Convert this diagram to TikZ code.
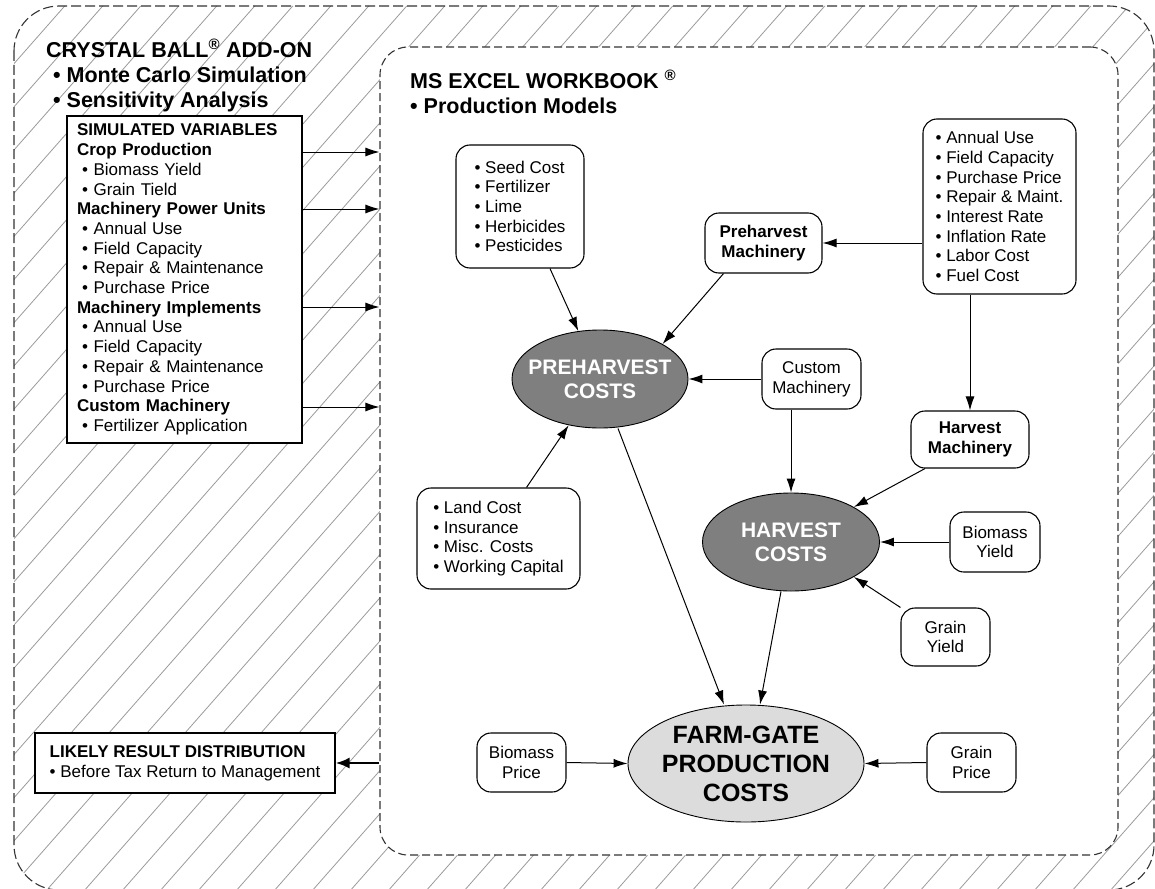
\documentclass[tikz,border=0pt]{standalone}
\usepackage{fontspec}
\setmainfont{Liberation Sans}
\usetikzlibrary{arrows.meta,shapes.geometric}

\definecolor{costgray}{HTML}{7F7F7F}
\definecolor{farmgray}{HTML}{DCDCDC}
\definecolor{hatchgray}{HTML}{9A9A9A}

\def\bodyfont{\fontsize{17}{19.7}\selectfont}
\def\titlefont{\fontsize{21.5}{25}\selectfont\bfseries}
\def\costfont{\fontsize{21}{24}\selectfont\bfseries}
\def\farmfont{\fontsize{25}{29}\selectfont\bfseries}
\def\zw#1{\makebox[0pt]{#1}}
\def\bul{\hspace*{5pt}• }

\begin{document}
\begin{tikzpicture}[x=1pt, y=-1pt,
		hatch/.style={draw=hatchgray, line width=0.8pt},
		outerline/.style={draw=black!80, line width=1.1pt, dash pattern=on 10pt off 4pt},
		innerbox/.style={draw=black!80, line width=1.1pt, dash pattern=on 8pt off 4pt, fill=white, rounded corners=28pt, inner sep=0pt},
		plainbox/.style={draw, fill=white, line width=1.1pt, inner sep=0pt, font=\bodyfont},
		item/.style={draw, fill=white, line width=1.1pt, rounded corners=14pt, inner sep=0pt, font=\bodyfont},
		bolditem/.style={item, font=\bodyfont\bfseries, align=center},
		cost/.style={ellipse, draw, line width=0.9pt, fill=costgray, text=white, font=\costfont, align=center, inner sep=0pt},
		arr/.style={-{Latex[length=14pt,width=9pt]}, line width=1pt}]
		\useasboundingbox (0,0) rectangle (1155,888);
		
		% hatched add-on area
		\begin{scope}
			\clip[rounded corners=45pt] (14,6) rectangle (1154,890);
			\foreach \k in {-22,...,31}
				\draw[hatch] (\k*38,900) -- ++(792,-900);
		\end{scope}
		\draw[outerline, rounded corners=45pt] (14,6) rectangle (1154,890);
		
		% workbook area
		\node[innerbox, minimum width=738pt, minimum height=808pt] (excel) at (749,451) {};
		
		% titles
		\node[anchor=north west, inner sep=0pt, align=left, font=\titlefont] (crystal) at (46,39)
			{CRYSTAL BALL\textsuperscript{®} ADD-ON\\
			\hspace*{7pt}• Monte Carlo Simulation\\
			\hspace*{7pt}• Sensitivity Analysis};
		\node[anchor=north west, inner sep=0pt, align=left, font=\titlefont] (workbook) at (410,70)
			{MS EXCEL WORKBOOK \textsuperscript{®}\\
			• Production Models};
		
		% add-on boxes
		\node[plainbox, text width=215pt, inner xsep=10pt, minimum height=327pt, align=left] (sim) at (184.5,279.5)
			{\textbf{SIMULATED VARIABLES}\\
			\textbf{Crop Production}\\
			\bul Biomass Yield\\
			\bul Grain Tield\\
			\textbf{Machinery Power Units}\\
			\bul Annual Use\\
			\bul Field Capacity\\
			\bul Repair \& Maintenance\\
			\bul Purchase Price\\
			\textbf{Machinery Implements}\\
			\bul Annual Use\\
			\bul Field Capacity\\
			\bul Repair \& Maintenance\\
			\bul Purchase Price\\
			\textbf{Custom Machinery}\\
			\bul Fertilizer Application};
		\node[plainbox, minimum width=300pt, minimum height=60pt, align=left] (likely) at (185,763)
			{\textbf{LIKELY RESULT DISTRIBUTION}\\
			• Before Tax Return to Management};
		
		% model inputs
		\node[item, align=left, minimum width=128pt, minimum height=123pt] (seed) at (520,206.5)
			{• Seed Cost\\• Fertilizer\\• Lime\\• Herbicides\\• Pesticides};
		\node[bolditem, minimum width=117pt, minimum height=60pt] (phmach) at (763.5,243) {Preharvest\\Machinery};
		\node[item, align=left, minimum width=153pt, minimum height=175pt] (machin) at (999.5,206.5)
			{• Annual Use\\• Field Capacity\\• Purchase Price\\• Repair \& Maint.\\• Interest Rate\\• Inflation Rate\\• Labor Cost\\• Fuel Cost};
		\node[item, align=center, minimum width=99pt, minimum height=60pt] (custom) at (811.5,379) {Custom\\Machinery};
		\node[bolditem, minimum width=118pt, minimum height=57pt] (hmach) at (970,439.5) {Harvest\\Machinery};
		\node[item, align=left, minimum width=163pt, minimum height=101pt] (land) at (498.5,538.5)
			{• Land Cost\\• Insurance\\• Misc. Costs\\• Working Capital};
		\node[item, align=center, minimum width=90pt, minimum height=60pt] (bioyield) at (995,542) {Biomass\\Yield};
		\node[item, align=center, minimum width=89pt, minimum height=58pt] (grainyield) at (945.5,637) {Grain\\Yield};
		\node[item, align=center, minimum width=89pt, minimum height=59pt] (grainprice) at (971.5,762.5) {Grain\\Price};
		\node[item, align=center, minimum width=89pt, minimum height=59pt] (bioprice) at (521.5,762.5) {Biomass\\Price};
		
		% cost ellipses
		\node[cost, minimum width=176pt, minimum height=98pt] (pre) at (600,379) {\zw{PREHARVEST}\\\zw{COSTS}};
		\node[cost, minimum width=177pt, minimum height=98pt] (har) at (791,542) {\zw{HARVEST}\\\zw{COSTS}};
		\node[cost, fill=farmgray, text=black, font=\farmfont, minimum width=236pt, minimum height=117pt] (farm) at (746,763.5)
			{\zw{FARM-GATE}\\\zw{PRODUCTION}\\\zw{COSTS}};
		
		% simulated variables into workbook
		\foreach \y in {152,209,307,407}
			\draw[arr] (sim.east |- 0,\y) -- (excel.west |- 0,\y);
		\draw[line width=2.4pt, -{Latex[length=14pt,width=11pt]}] (excel.west |- likely) -- (likely.east);
		
		% preharvest links
		\draw[arr] ([xshift=30pt]seed.south) -- (pre);
		\draw[arr] ([xshift=-40pt]phmach.south) -- (pre.north east);
		\draw[arr] ([xshift=28pt]land.north) -- (pre);
		\draw[arr] (custom.west) -- (pre.east);
		
		% harvest links
		\draw[arr] (machin.west |- phmach) -- (phmach.east);
		\draw[arr] (machin.south -| hmach) -- (hmach.north);
		\draw[arr] (custom.south -| har) -- (har.north);
		\draw[arr] ([xshift=-45pt]hmach.south) -- (har.north east);
		\draw[arr] (bioyield.west) -- (har.east);
		\draw[arr] (grainyield.north west) -- (har.south east);
		
		% farm-gate links
		\draw[arr] ([xshift=18pt]pre.south) -- ([xshift=-22pt]farm.north);
		\draw[arr] ([xshift=-10pt]har.south) -- ([xshift=14pt]farm.north);
		\draw[arr] (bioprice.east) -- (farm.west);
		\draw[arr] (grainprice.west) -- (farm.east);
\end{tikzpicture}
\end{document}
